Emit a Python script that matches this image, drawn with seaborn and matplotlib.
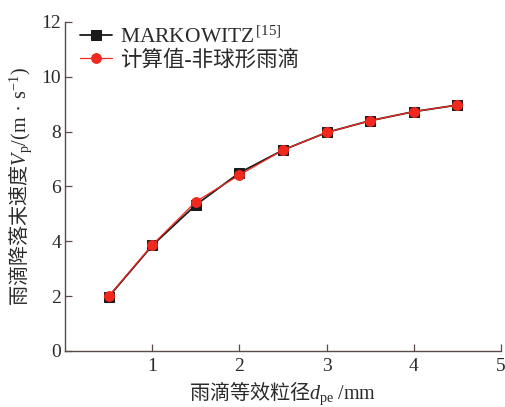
import matplotlib
matplotlib.use("Agg")
import matplotlib.pyplot as plt
import seaborn as sns
import pandas as pd

# Raindrop equivalent diameter (mm)
diameter = [0.5, 1.0, 1.5, 2.0, 2.5, 3.0, 3.5, 4.0, 4.5]
# Terminal velocity (m/s)
v_markowitz = [1.98, 3.85, 5.33, 6.50, 7.33, 7.97, 8.40, 8.73, 8.97]
v_calc = [2.00, 3.87, 5.45, 6.42, 7.33, 7.97, 8.40, 8.73, 8.97]

label_markowitz = "MARKOWITZ$^{\\,[15]}$"
label_calc = "计算值-非球形雨滴"

sns.set_style("ticks")
plt.rcParams["font.family"] = ["Liberation Serif", "Noto Sans CJK SC", "DejaVu Sans"]
plt.rcParams["mathtext.fontset"] = "custom"
plt.rcParams["mathtext.rm"] = "Liberation Serif"
plt.rcParams["mathtext.it"] = "Liberation Serif:italic"

spine_color = "#5a4a48"
text_color = "#2a2a2a"

df_m = pd.DataFrame({"d": diameter, "v": v_markowitz})
df_c = pd.DataFrame({"d": diameter, "v": v_calc})

fig = plt.figure(figsize=(5.05, 4.07), dpi=100)
ax = fig.add_axes([0.129, 0.1376, 0.863, 0.8084])

sns.lineplot(data=df_m, x="d", y="v", ax=ax, color="#1a1a1a", marker="s",
             markersize=6.5, markeredgecolor="#1a1a1a", linewidth=1.3,
             label=label_markowitz)
sns.lineplot(data=df_c, x="d", y="v", ax=ax, color="#f0281e", marker="o",
             markersize=7, markeredgecolor="#f0281e", linewidth=0.9,
             label=label_calc)

ax.set_xlim(0, 5)
ax.set_ylim(0, 12)
ax.set_xticks([1, 2, 3, 4, 5])
ax.set_yticks([0, 2, 4, 6, 8, 10, 12])
ax.tick_params(direction="in", length=5, width=0.9, color=spine_color,
               labelsize=14, labelcolor=text_color, pad=5)
ax.tick_params(axis="y", pad=3)
for side in ["top", "right"]:
    ax.spines[side].set_visible(False)
for side in ["left", "bottom"]:
    ax.spines[side].set_color(spine_color)
    ax.spines[side].set_linewidth(1.0)

# Chinese text outside math uses the CJK family; symbols and units in math use the serif
ax.set_xlabel("雨滴等效粒径$\\mathit{d}_{\\mathrm{pe}}\\;\\mathrm{/mm}$", fontsize=14.5,
              color=text_color, labelpad=3, family="Noto Sans CJK SC")
ax.set_ylabel("雨滴降落末速度$\\mathit{V}_{\\mathrm{p}}\\mathrm{/(m}\\;\\bullet\\;\\mathrm{s}^{-1}\\mathrm{)}$",
              fontsize=14.5, color=text_color, labelpad=5, family="Noto Sans CJK SC")

leg = ax.legend(loc="upper left", frameon=False, fontsize=15.5,
                handlelength=1.45, handletextpad=0.4, borderaxespad=0.0,
                labelspacing=0.1, bbox_to_anchor=(0.015, 1.012))
for t in leg.get_texts():
    t.set_color(text_color)

fig.savefig("out.png", dpi=100)
